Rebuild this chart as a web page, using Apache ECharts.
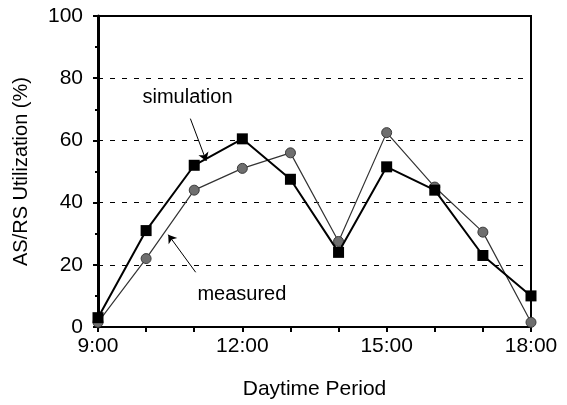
<!DOCTYPE html>
<html>
<head>
<meta charset="UTF-8"/>
<title>AS/RS Utilization</title>
<script src="https://cdn.jsdelivr.net/npm/echarts@6/dist/echarts.min.js"></script>
<style>
  html, body { margin: 0; padding: 0; background: #fff; }
  #main { width: 567px; height: 405px; }
</style>
</head>
<body>
<div id="main"></div>
<script type="text/javascript">
// hours of the day (x axis)
var hours = [9, 10, 11, 12, 13, 14, 15, 16, 17, 18];
var simulation = [3, 31, 52, 60.5, 47.5, 24, 51.5, 44, 23, 10];
var measured = [1.5, 22, 44, 51, 56, 27.5, 62.5, 45, 30.5, 1.5];
var xTickLabels = ['9:00', '12:00', '15:00', '18:00'];

var font = 'Liberation Sans, Arial, sans-serif';

function pairs(xs, ys) {
    return xs.map(function (x, i) { return [x, ys[i]]; });
}

var myChart = echarts.init(document.getElementById('main'));

var option = {
    animation: false,
    grid: {
        left: 98, right: 36, top: 16, bottom: 75,
        show: true, borderColor: '#000', borderWidth: 2
    },
    xAxis: {
        type: 'value',
        min: 9, max: 18, interval: 1,
        name: 'Daytime Period',
        nameLocation: 'middle',
        nameGap: 52,
        nameTextStyle: { fontFamily: font, fontSize: 21, color: '#000' },
        axisLine: { lineStyle: { color: '#000', width: 2 } },
        axisTick: { length: 5, lineStyle: { color: '#000', width: 2 } },
        axisLabel: {
            margin: 9, fontFamily: font, fontSize: 21, color: '#000',
            formatter: function (v) {
                var s = v + ':00';
                return xTickLabels.indexOf(s) >= 0 ? s : '';
            }
        },
        splitLine: { show: false }
    },
    yAxis: {
        type: 'value',
        min: 0, max: 100, interval: 20,
        name: 'AS/RS Utilization (%)',
        nameLocation: 'middle',
        nameGap: 67,
        nameTextStyle: { fontFamily: font, fontSize: 20, color: '#000' },
        axisLine: { lineStyle: { color: '#000', width: 3 } },
        axisTick: { length: 5, lineStyle: { color: '#000', width: 2 } },
        minorTick: { show: true, splitNumber: 2, length: 3, lineStyle: { color: '#000', width: 2 } },
        axisLabel: { margin: 15, fontFamily: font, fontSize: 21, color: '#000' },
        splitLine: { show: true, lineStyle: { color: '#000', type: [5, 7], width: 1 } }
    },
    series: [
        {
            name: 'measured',
            type: 'line',
            data: pairs(hours, measured),
            symbol: 'circle',
            symbolSize: 10,
            itemStyle: { color: '#6e6e6e', borderColor: '#3a3a3a', borderWidth: 1 },
            lineStyle: { color: '#333', width: 1.2 },
            z: 2,
            markLine: {
                silent: true,
                symbol: ['none', 'arrow'],
                symbolSize: 8,
                lineStyle: { color: '#000', width: 1, type: 'solid' },
                label: { show: false },
                data: [[{ coord: [11.03, 17.6] }, { coord: [10.46, 29.7] }]]
            },
            markPoint: {
                silent: true,
                symbol: 'circle',
                symbolSize: 1,
                itemStyle: { color: 'transparent' },
                label: { show: true, position: 'inside', fontFamily: font, fontSize: 20, color: '#000', formatter: '{b}' },
                data: [{ name: 'measured', coord: [11.99, 10.5] }]
            }
        },
        {
            name: 'simulation',
            type: 'line',
            data: pairs(hours, simulation),
            symbol: 'rect',
            symbolSize: 11,
            itemStyle: { color: '#000' },
            lineStyle: { color: '#000', width: 2 },
            z: 3,
            markLine: {
                silent: true,
                symbol: ['none', 'arrow'],
                symbolSize: 8,
                lineStyle: { color: '#000', width: 1, type: 'solid' },
                label: { show: false },
                data: [[{ coord: [10.92, 67] }, { coord: [11.25, 53.4] }]]
            },
            markPoint: {
                silent: true,
                symbol: 'circle',
                symbolSize: 1,
                itemStyle: { color: 'transparent' },
                label: { show: true, position: 'inside', fontFamily: font, fontSize: 20, color: '#000', formatter: '{b}' },
                data: [{ name: 'simulation', coord: [10.86, 73.8] }]
            }
        }
    ]
};

myChart.setOption(option);
</script>
</body>
</html>
